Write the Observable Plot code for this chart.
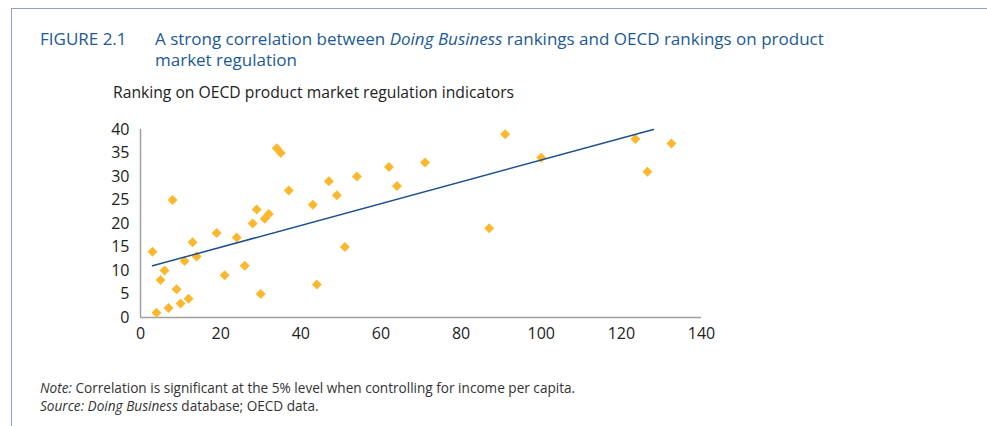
<!DOCTYPE html>
<html>
<head>
<meta charset="utf-8">
<script src="https://cdn.jsdelivr.net/npm/d3@7"></script>
<script src="https://cdn.jsdelivr.net/npm/@observablehq/plot@0.6"></script>
<style>
  html, body { margin: 0; padding: 0; background: #fff; }
  body { width: 987px; height: 426px; position: relative; overflow: hidden; font-family: "Open Sans", sans-serif; }
  .frame-top { position: absolute; left: 11px; top: 8px; width: 976px; height: 0; border-top: 1px solid #8da3c9; }
  .frame-left { position: absolute; left: 11px; top: 8px; width: 0; height: 418px; border-left: 1px solid #8da3c9; }
  .fig { position: absolute; left: 40px; top: 28px; color: #1b5a96; font-size: 17px; line-height: 21px; }
  .title { position: absolute; left: 155px; top: 28px; width: 700px; color: #1b5a96; font-size: 17px; line-height: 21px; }
  .sub { position: absolute; left: 113px; top: 81px; color: #222; font-size: 15.7px; }
  .note { position: absolute; left: 40px; top: 379px; color: #333; font-size: 13.6px; line-height: 18px; }
  #chart { position: absolute; left: 0; top: 110px; }
</style>
</head>
<body>
<div class="frame-top"></div>
<div class="frame-left"></div>
<div class="fig">FIGURE 2.1</div>
<div class="title">A strong correlation between <i>Doing Business</i> rankings and OECD rankings on product<br>market regulation</div>
<div class="sub">Ranking on OECD product market regulation indicators</div>
<div id="chart"></div>
<div class="note"><i>Note:</i> Correlation is significant at the 5% level when controlling for income per capita.<br><i>Source: Doing Business</i> database; OECD data.</div>
<script>
// Doing Business ranking (x) vs OECD PMR ranking (y)
const dbRank   = [3, 4, 5, 6, 7, 8, 9, 10, 11, 12, 13, 14, 19, 21, 24, 26, 28, 29, 30, 31, 32, 34, 35, 37, 43, 44, 47, 49, 51, 54, 62, 64, 71, 87, 91, 100, 123.5, 126.5, 132.5];
const oecdRank = [14, 1, 8, 10, 2, 25, 6, 3, 12, 4, 16, 13, 18, 9, 17, 11, 20, 23, 5, 21, 22, 36, 35, 27, 24, 7, 29, 26, 15, 30, 32, 28, 33, 19, 39, 34, 38, 31, 37];
// trend line end points
const trendX = [3, 128];
const trendY = [11, 40];
const xTicks = [0, 20, 40, 60, 80, 100, 120, 140];
const yTicks = [0, 5, 10, 15, 20, 25, 30, 35, 40];

const points = dbRank.map((x, i) => ({x, y: oecdRank[i]}));
const trend = trendX.map((x, i) => ({x, y: trendY[i]}));

const chart = Plot.plot({
  width: 760,
  height: 240,
  marginLeft: 140,
  marginRight: 59,
  marginTop: 19,
  marginBottom: 33,
  style: { fontFamily: "Open Sans, sans-serif", fontSize: "16px", color: "#222", background: "transparent" },
  x: { domain: [0, 140] },
  y: { domain: [0, 40] },
  marks: [
    Plot.ruleY([0], { stroke: "#a0a0a0", strokeWidth: 1.5 }),
    Plot.ruleX([0], { stroke: "#a0a0a0", strokeWidth: 1.5 }),
    Plot.axisX({ ticks: xTicks, tickSize: 0, tickPadding: 10, label: null, tickFormat: d => String(d), fontSize: 16 }),
    Plot.axisY({ ticks: yTicks, tickSize: 0, tickPadding: 11, label: null, tickFormat: d => String(d), fontSize: 16 }),
    Plot.dot(points, { x: "x", y: "y", symbol: "diamond2", r: 4.5, fill: "#fbb82e", stroke: "none" }),
    Plot.line(trend, { x: "x", y: "y", stroke: "#1c4f8c", strokeWidth: 1.5 })
  ]
});
document.getElementById("chart").appendChild(chart);
</script>
</body>
</html>
